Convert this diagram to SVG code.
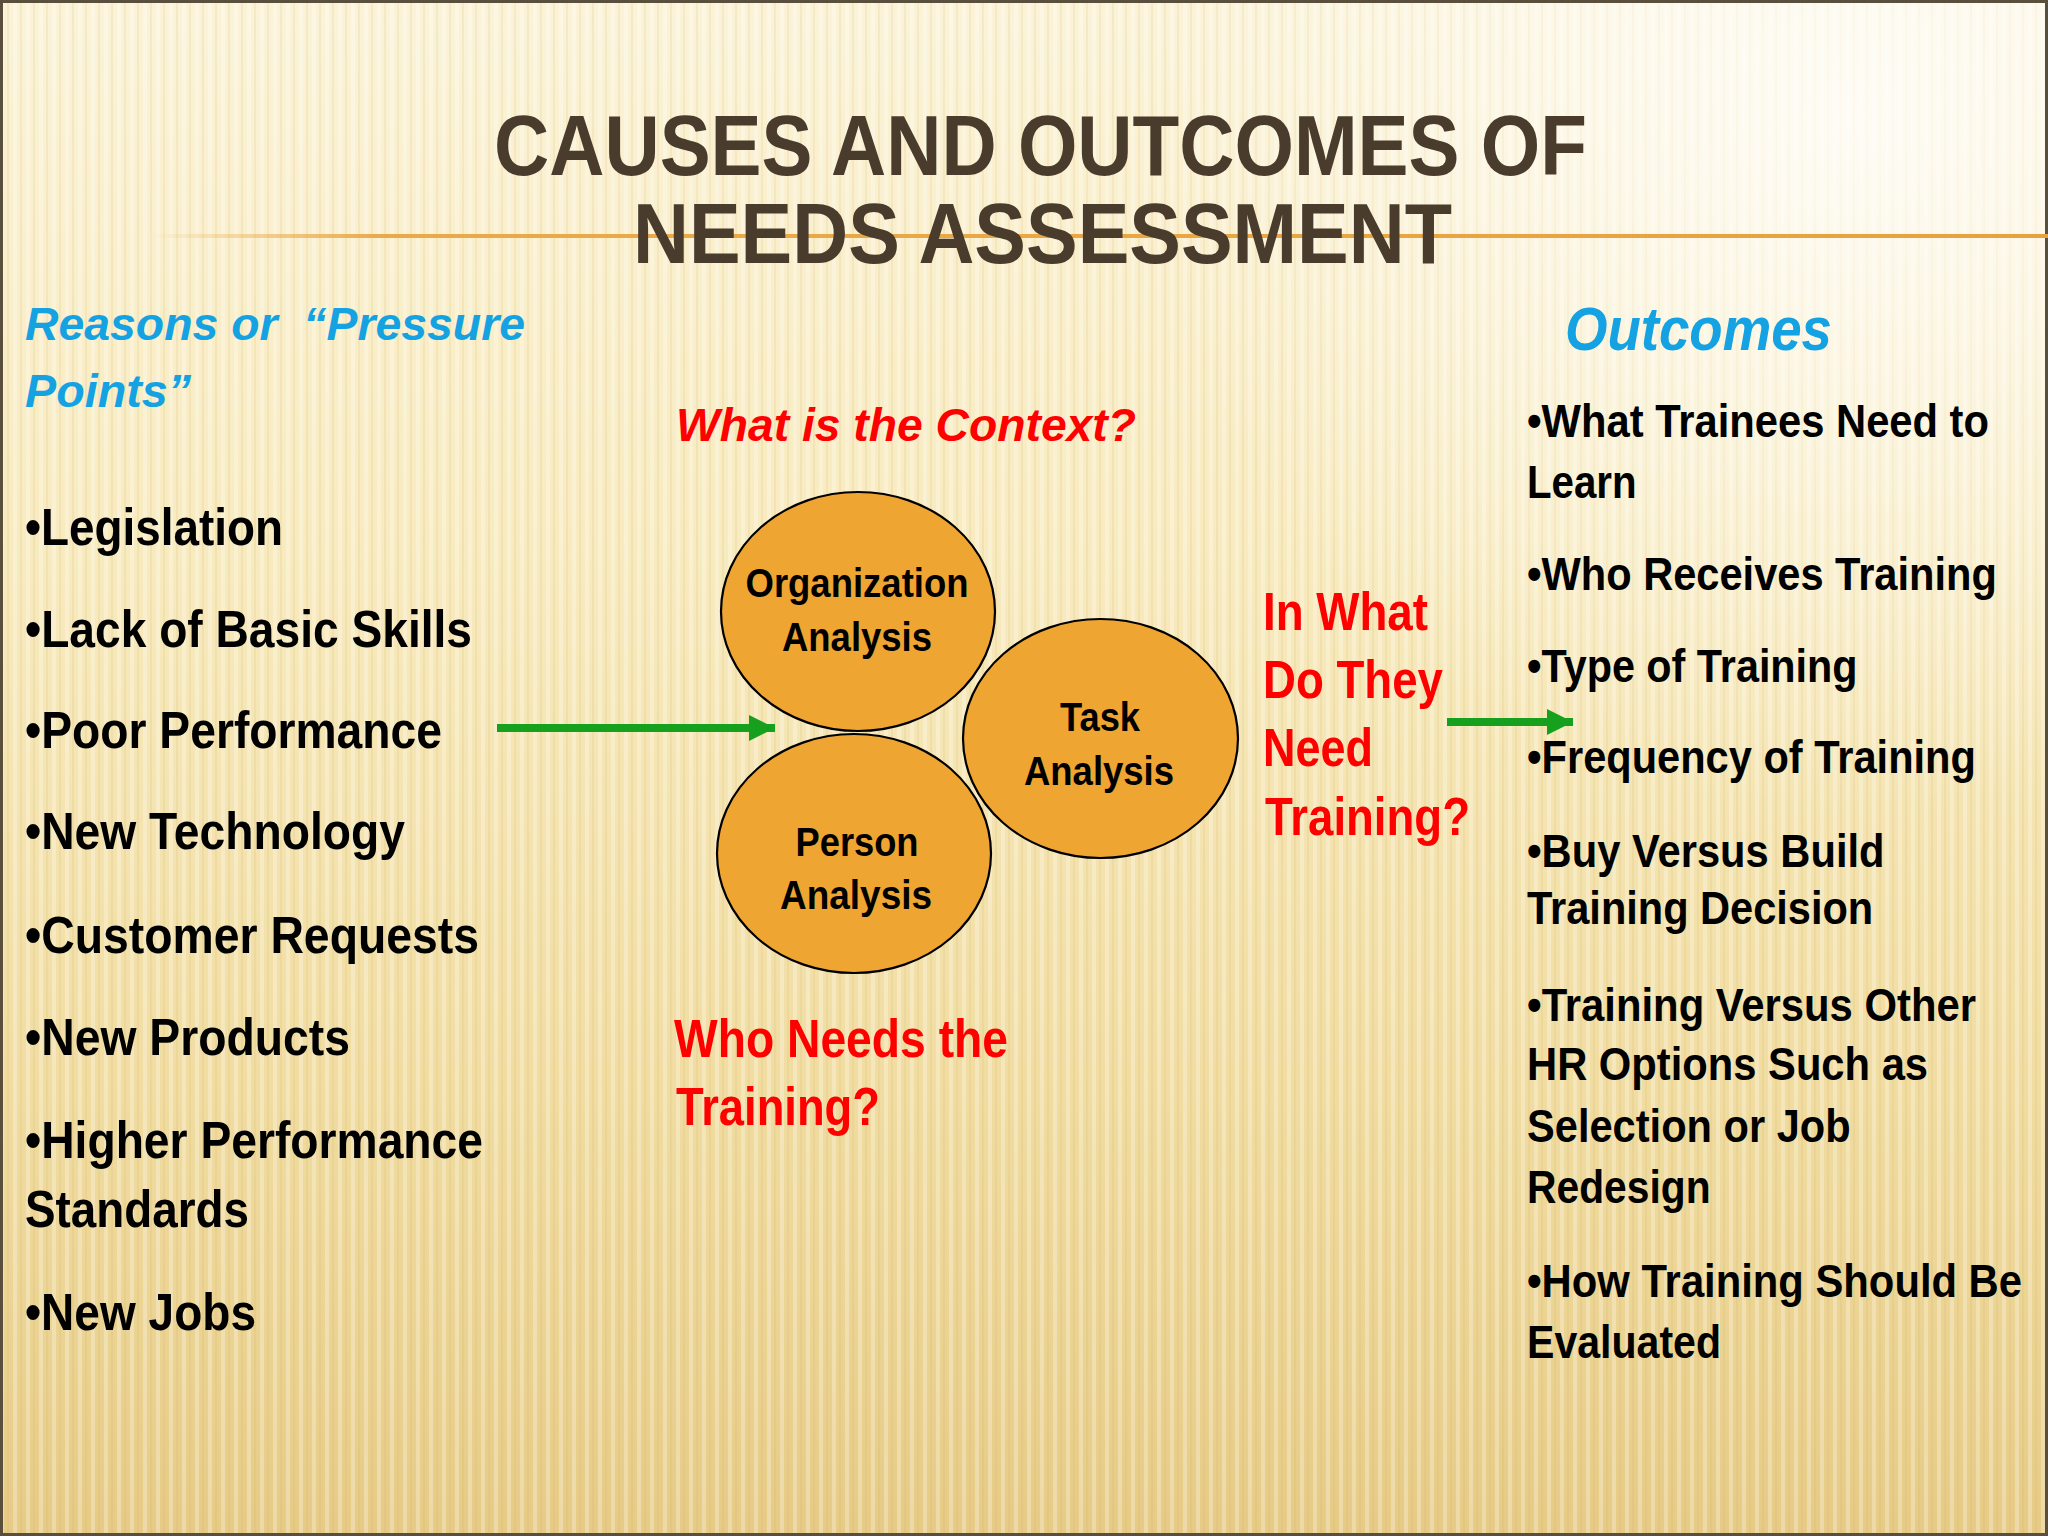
<svg xmlns="http://www.w3.org/2000/svg" width="2048" height="1536" viewBox="0 0 2048 1536">
<defs>
  <linearGradient id="bg" x1="0" y1="0" x2="0" y2="1">
    <stop offset="0" stop-color="#FBF3D8"/>
    <stop offset="0.35" stop-color="#F8EBC0"/>
    <stop offset="0.7" stop-color="#F1DDA2"/>
    <stop offset="1" stop-color="#E6CB86"/>
  </linearGradient>
  <radialGradient id="glow" cx="1850" cy="120" r="700" gradientUnits="userSpaceOnUse">
    <stop offset="0" stop-color="#FFFFFF" stop-opacity="0.75"/>
    <stop offset="1" stop-color="#FFFFFF" stop-opacity="0"/>
  </radialGradient>
  <pattern id="stripes" x="0" y="0" width="13" height="1536" patternUnits="userSpaceOnUse">
    <rect x="0" y="0" width="4" height="1536" fill="#FFFFFF" opacity="0.28"/>
    <rect x="7" y="0" width="2" height="1536" fill="#C9A550" opacity="0.12"/>
  </pattern>
  <linearGradient id="rule" x1="150" y1="0" x2="2048" y2="0" gradientUnits="userSpaceOnUse">
    <stop offset="0" stop-color="#E9A23B" stop-opacity="0"/>
    <stop offset="0.12" stop-color="#E9A23B" stop-opacity="0.9"/>
    <stop offset="1" stop-color="#E9A23B"/>
  </linearGradient>
  <marker id="head" viewBox="0 0 26 26" refX="26" refY="13" markerWidth="26" markerHeight="26" markerUnits="userSpaceOnUse" orient="auto">
    <path d="M0,0 L26,13 L0,26 Z" fill="#16A01E"/>
  </marker>
  <style>
    .title { font-family: "Liberation Sans", Arial, sans-serif; font-weight: bold; font-size: 86px; fill: #4A3C2D; }
    .blue { font-family: "Liberation Sans", Arial, sans-serif; font-weight: bold; font-style: italic; fill: #14A2E2; }
    .red { font-family: "Liberation Sans", Arial, sans-serif; font-weight: bold; fill: #FF0000; }
    .redi { font-style: italic; }
    .item { font-family: "Liberation Sans", Arial, sans-serif; font-weight: bold; fill: #000000; }
    .left { font-size: 52px; }
    .right { font-size: 47px; }
    .node { fill: #EFA531; stroke: #000000; stroke-width: 2.2; }
    .ntext { font-family: "Liberation Sans", Arial, sans-serif; font-weight: bold; font-size: 40px; fill: #000000; text-anchor: middle; }
    .conn { stroke: #16A01E; stroke-width: 8; fill: none; marker-end: url(#head); }
  </style>
</defs>

<g id="background">
  <rect x="0" y="0" width="2048" height="1536" fill="url(#bg)"/>
  <rect x="0" y="0" width="2048" height="1536" fill="url(#stripes)"/>
  <rect x="0" y="0" width="2048" height="1536" fill="url(#glow)"/>
  <rect x="1.5" y="1.5" width="2045" height="1533" fill="none" stroke="#5A4E3C" stroke-width="3"/>
</g>

<g id="title">
  <rect x="150" y="234" width="1898" height="4" fill="url(#rule)"/>
  <text class="title" x="494" y="175" textLength="1093" lengthAdjust="spacingAndGlyphs">CAUSES AND OUTCOMES OF</text>
  <text class="title" x="633" y="263" textLength="819" lengthAdjust="spacingAndGlyphs">NEEDS ASSESSMENT</text>
</g>

<g id="reasons">
  <text class="blue" font-size="46" x="25" y="340" textLength="500" lengthAdjust="spacingAndGlyphs" xml:space="preserve">Reasons or  “Pressure</text>
  <text class="blue" font-size="46" x="25" y="407" textLength="166" lengthAdjust="spacingAndGlyphs">Points”</text>
  <text class="item left" x="25" y="545" textLength="258" lengthAdjust="spacingAndGlyphs">•Legislation</text>
  <text class="item left" x="25" y="647" textLength="447" lengthAdjust="spacingAndGlyphs">•Lack of Basic Skills</text>
  <text class="item left" x="25" y="748" textLength="417" lengthAdjust="spacingAndGlyphs">•Poor Performance</text>
  <text class="item left" x="25" y="849" textLength="380" lengthAdjust="spacingAndGlyphs">•New Technology</text>
  <text class="item left" x="25" y="953" textLength="454" lengthAdjust="spacingAndGlyphs">•Customer Requests</text>
  <text class="item left" x="25" y="1055" textLength="325" lengthAdjust="spacingAndGlyphs">•New Products</text>
  <text class="item left" x="25" y="1158" textLength="458" lengthAdjust="spacingAndGlyphs">•Higher Performance</text>
  <text class="item left" x="25" y="1227" textLength="224" lengthAdjust="spacingAndGlyphs">Standards</text>
  <text class="item left" x="25" y="1330" textLength="231" lengthAdjust="spacingAndGlyphs">•New Jobs</text>
</g>

<g id="context-label">
  <text class="red redi" font-size="46" x="676" y="441" textLength="460" lengthAdjust="spacingAndGlyphs">What is the Context?</text>
</g>

<g id="node-organization">
  <ellipse class="node" cx="858" cy="611.5" rx="137" ry="119.5"/>
  <text class="ntext" x="857" y="597" textLength="223" lengthAdjust="spacingAndGlyphs">Organization</text>
  <text class="ntext" x="857" y="651" textLength="150" lengthAdjust="spacingAndGlyphs">Analysis</text>
</g>

<g id="node-task">
  <ellipse class="node" cx="1100.5" cy="738.5" rx="137.5" ry="119.5"/>
  <text class="ntext" x="1100" y="731" textLength="80" lengthAdjust="spacingAndGlyphs">Task</text>
  <text class="ntext" x="1099" y="785" textLength="150" lengthAdjust="spacingAndGlyphs">Analysis</text>
</g>

<g id="node-person">
  <ellipse class="node" cx="854" cy="853.5" rx="137" ry="119.5"/>
  <text class="ntext" x="857" y="856" textLength="123" lengthAdjust="spacingAndGlyphs">Person</text>
  <text class="ntext" x="856" y="909" textLength="152" lengthAdjust="spacingAndGlyphs">Analysis</text>
</g>

<g id="who-label">
  <text class="red" font-size="54" x="674" y="1057" textLength="334" lengthAdjust="spacingAndGlyphs">Who Needs the</text>
  <text class="red" font-size="54" x="676" y="1125" textLength="204" lengthAdjust="spacingAndGlyphs">Training?</text>
</g>

<g id="what-label">
  <text class="red" font-size="54" x="1263" y="630" textLength="165" lengthAdjust="spacingAndGlyphs">In What</text>
  <text class="red" font-size="54" x="1263" y="698" textLength="180" lengthAdjust="spacingAndGlyphs">Do They</text>
  <text class="red" font-size="54" x="1263" y="766" textLength="110" lengthAdjust="spacingAndGlyphs">Need</text>
  <text class="red" font-size="54" x="1265" y="835" textLength="205" lengthAdjust="spacingAndGlyphs">Training?</text>
</g>

<g id="outcomes">
  <text class="blue" font-size="62" x="1565" y="350" textLength="267" lengthAdjust="spacingAndGlyphs">Outcomes</text>
  <g transform="translate(1527,0) scale(0.87,1)">
    <text class="item right" x="0" y="437" textLength="531" lengthAdjust="spacingAndGlyphs">•What Trainees Need to</text>
    <text class="item right" x="0" y="498" textLength="126" lengthAdjust="spacingAndGlyphs">Learn</text>
    <text class="item right" x="0" y="590" textLength="540" lengthAdjust="spacingAndGlyphs">•Who Receives Training</text>
    <text class="item right" x="0" y="682" textLength="380" lengthAdjust="spacingAndGlyphs">•Type of Training</text>
    <text class="item right" x="0" y="773" textLength="516" lengthAdjust="spacingAndGlyphs">•Frequency of Training</text>
    <text class="item right" x="0" y="867" textLength="411" lengthAdjust="spacingAndGlyphs">•Buy Versus Build</text>
    <text class="item right" x="0" y="924" textLength="398" lengthAdjust="spacingAndGlyphs">Training Decision</text>
    <text class="item right" x="0" y="1021" textLength="516" lengthAdjust="spacingAndGlyphs">•Training Versus Other</text>
    <text class="item right" x="0" y="1080" textLength="461" lengthAdjust="spacingAndGlyphs">HR Options Such as</text>
    <text class="item right" x="0" y="1142" textLength="372" lengthAdjust="spacingAndGlyphs">Selection or Job</text>
    <text class="item right" x="0" y="1203" textLength="211" lengthAdjust="spacingAndGlyphs">Redesign</text>
    <text class="item right" x="0" y="1297" textLength="569" lengthAdjust="spacingAndGlyphs">•How Training Should Be</text>
    <text class="item right" x="0" y="1358" textLength="223" lengthAdjust="spacingAndGlyphs">Evaluated</text>
  </g>
</g>

<g id="connectors">
  <line class="conn" x1="497" y1="728" x2="775" y2="728"/>
  <line class="conn" x1="1447" y1="722" x2="1573" y2="722"/>
</g>
</svg>
